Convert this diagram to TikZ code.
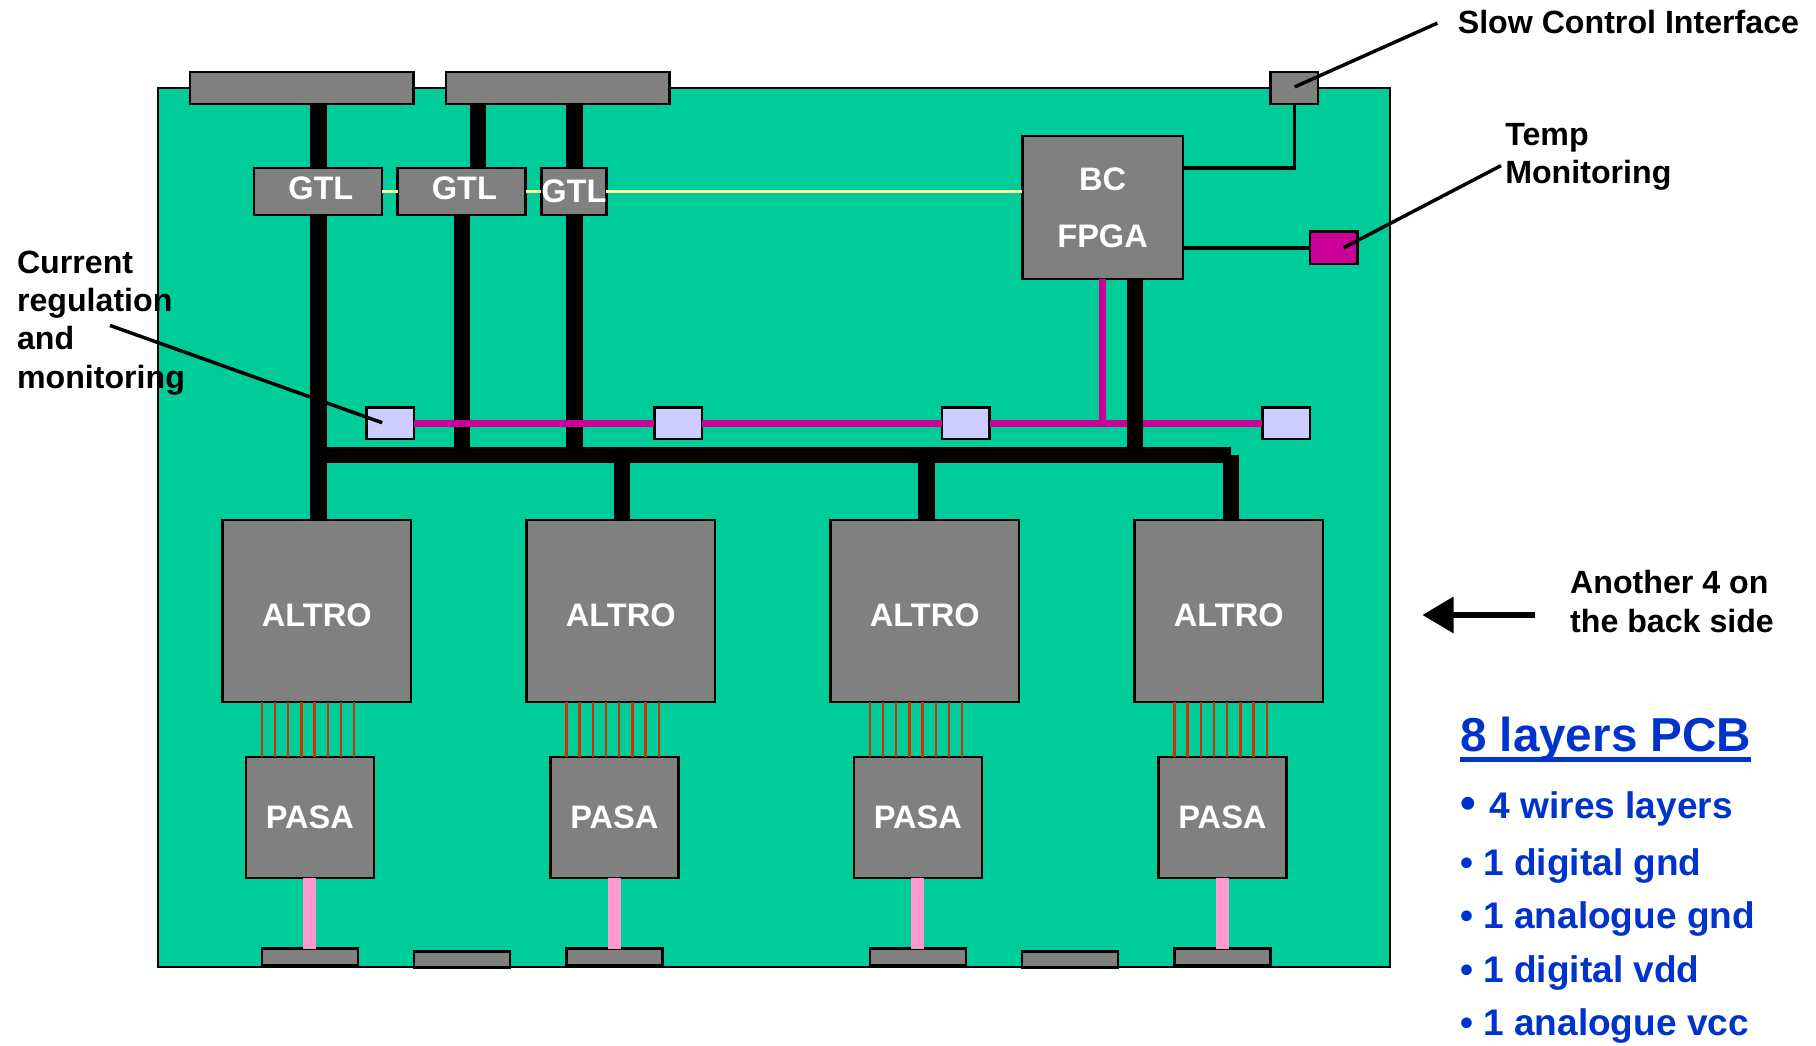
\documentclass[tikz,border=0pt]{standalone}
\usepackage{fontspec}
\setmainfont{Liberation Sans}[BoldFont={Liberation Sans Bold}]
\usetikzlibrary{arrows.meta}
\definecolor{boardgreen}{HTML}{00CC99}
\definecolor{chipgray}{HTML}{808080}
\definecolor{regblue}{HTML}{CCCCFF}
\definecolor{sensemagenta}{HTML}{CC0099}
\definecolor{wirered}{HTML}{CC3300}
\definecolor{analogpink}{HTML}{FF99CC}
\definecolor{clockyellow}{HTML}{FFFF99}
\definecolor{noteblue}{HTML}{0033CC}
\newcommand{\ruledtitle}[1]{\vtop{\hbox{\smash{#1}}\kern1.4pt\hrule height 1.05pt}}

\begin{document}
\begin{tikzpicture}[
    y=-1cm,
    >=Stealth,
    chip/.style={draw=black,fill=chipgray,line width=0.6pt,inner sep=0pt,outer sep=0pt,text=white,
        font=\fontsize{8}{14}\selectfont\bfseries,align=center},
    conn/.style={chip,minimum width=1.93cm,minimum height=0.28cm},
    foot/.style={chip,minimum width=0.83cm,minimum height=0.14cm},
    gtl/.style={chip,minimum width=1.105cm,minimum height=0.405cm},
    altro/.style={chip,minimum width=1.63cm,minimum height=1.575cm,text height=0.27cm,text depth=0pt},
    pasa/.style={chip,minimum width=1.105cm,minimum height=1.045cm},
    reg/.style={chip,fill=regblue,minimum width=0.41cm,minimum height=0.275cm},
    bus/.style={line width=0.14cm},
    sense/.style={sensemagenta,line width=0.06cm},
    wire/.style={wirered,line width=0.02cm},
    analog/.style={analogpink,line width=0.11cm},
    clockline/.style={clockyellow,line width=0.025cm},
    thinline/.style={line width=0.03cm},
    note/.style={inner sep=0pt,font=\fontsize{7.9}{9.4}\selectfont\bfseries,align=left},
    layer/.style={inner sep=0pt,anchor=base west,text=noteblue,font=\fontsize{9.1}{10}\selectfont\bfseries},
]
\useasboundingbox (0,0) rectangle (15.68,9.023);

% PCB outline
\node[draw=black,fill=boardgreen,line width=0.5pt,minimum width=10.635cm,minimum height=7.59cm,inner sep=0pt,outer sep=0pt] (board) at (6.685,4.555) {};

% Connectors on the edges
\node[conn] (con1) at (2.605,0.76) {};
\node[conn] (con2) at (4.815,0.76) {};
\node[chip,minimum width=0.41cm,minimum height=0.28cm] (sci) at (11.175,0.76) {};
\node[foot] (foot1) at (2.675,8.26) {};
\node[foot] (foot2) at (5.305,8.26) {};
\node[foot] (foot3) at (7.925,8.26) {};
\node[foot] (foot4) at (10.555,8.26) {};
\node[foot] (foot5) at (3.99,8.285) {};
\node[foot] (foot6) at (9.24,8.285) {};

% GTL and FPGA
\node[gtl,text depth=0.06cm] (gtl1) at (2.745,1.655) {\hspace*{0.05cm}GTL};
\node[gtl,text depth=0.06cm] (gtl2) at (3.985,1.655) {\hspace*{0.05cm}GTL};
\node[gtl,minimum width=0.55cm] (gtl3) at (4.955,1.655) {GTL};
\node[chip,minimum width=1.385cm,minimum height=1.235cm] (fpga) at (9.52,1.79) {BC\\FPGA};
\node[chip,fill=sensemagenta,minimum width=0.41cm,minimum height=0.28cm] (temp) at (11.515,2.14) {};

% Current regulators
\node[reg] (reg1) at (3.37,3.655) {};
\node[reg] (reg2) at (5.855,3.655) {};
\node[reg] (reg3) at (8.34,3.655) {};
\node[reg] (reg4) at (11.105,3.655) {};

% ALTRO and PASA
\node[altro] (alt1) at (2.735,5.275) {ALTRO};
\node[altro] (alt2) at (5.36,5.275) {ALTRO};
\node[altro] (alt3) at (7.985,5.275) {ALTRO};
\node[altro] (alt4) at (10.61,5.275) {ALTRO};
\node[pasa] (pasa1) at (2.675,7.06) {PASA};
\node[pasa] (pasa2) at (5.305,7.06) {PASA};
\node[pasa] (pasa3) at (7.925,7.06) {PASA};
\node[pasa] (pasa4) at (10.555,7.06) {PASA};

% Labels
\node[note,anchor=base west] (scilabel) at (12.58,0.29) {Slow Control Interface};
\node[note,anchor=north west] (templabel) at (12.99,1.06) {Temp\\Monitoring};
\node[note,anchor=north west] (reglabel) at (0.14,2.16) {Current\\regulation\\and\\monitoring};
\node[note,anchor=north west] (backlabel) at (13.55,4.92) {Another 4 on\\the back side};

% Leaders
\coordinate (scifoot) at (12.41,0.2);
\coordinate (scitip) at (11.18,0.75);
\coordinate (tempfoot) at (12.96,1.43);
\coordinate (temptip) at (11.6,2.14);
\coordinate (regfoot) at (0.95,2.81);
\coordinate (regtip) at (3.3,3.65);
\draw[thinline] (regfoot) -- (regtip);

% Data bus
\coordinate (bus1) at (2.75,3.93);
\coordinate (bus2) at (5.37,3.93);
\coordinate (bus3) at (8,3.93);
\coordinate (bus4) at (10.63,3.93);
\coordinate (bus5) at (9.8,3.93);
\draw[bus] (bus1) -- (bus4);
\draw[bus] (bus1 |- con1.south) -- (bus1 |- gtl1.north);
\draw[bus] (bus1 |- gtl1.south) -- (bus1 |- alt1.north);
\draw[bus] (4.13,0.9) -- (4.13,1.45);
\draw[bus] (3.99,1.86) -- (3.99,3.93);
\draw[bus] (4.96,0.9) -- (4.96,1.45);
\draw[bus] (4.96,1.86) -- (4.96,3.93);
\draw[bus] (bus2) -- (bus2 |- alt2.north);
\draw[bus] (bus3) -- (bus3 |- alt3.north);
\draw[bus] (bus4) -- (bus4 |- alt4.north);

% Monitoring line
\coordinate (sensetee) at (9.52,3.655);
\draw[sense] (reg1.east) -- (reg2.west);
\draw[sense] (reg2.east) -- (reg3.west);
\draw[sense] (reg3.east) -- (reg4.west);
\draw[sense] (sensetee |- fpga.south) -- (sensetee);
\draw[bus] (bus5 |- fpga.south) -- (bus5);

% Clock line
\draw[clockline] (gtl1.east) -- (gtl2.west);
\draw[clockline] (gtl2.east) -- (gtl3.west);
\draw[clockline] (gtl3.east) -- (gtl3.east -| fpga.west);

% Slow control and temperature
\coordinate (fpgaout) at (10.21,1.45);
\draw[thinline] (fpgaout) -| (sci.south);
\draw[thinline] (fpga.east |- temp.west) -- (temp.west);
\draw[thinline] (scifoot) -- (scitip);
\draw[thinline] (tempfoot) -- (temptip);

% Front-end links
\foreach \a/\p/\o in {alt1/pasa1/2.26,alt2/pasa2/4.89,alt3/pasa3/7.51,alt4/pasa4/10.14} {
    \foreach \i in {0,...,7} {
        \draw[wire] ({\o+\i*0.114},0 |- \a.south) -- ({\o+\i*0.114},0 |- \p.north);
    }
}
\draw[analog] (pasa1.south) -- (foot1.north);
\draw[analog] (pasa2.south) -- (foot2.north);
\draw[analog] (pasa3.south) -- (foot3.north);
\draw[analog] (pasa4.south) -- (foot4.north);

% Back side arrow
\coordinate (backfoot) at (13.25,5.31);
\coordinate (backtip) at (12.28,5.31);
\draw[-{Triangle[length=0.27cm,width=0.3cm]},line width=0.06cm] (backfoot) -- (backtip);

% Layer stack
\node[layer,font=\fontsize{11.7}{13}\selectfont\bfseries] (stack) at (12.6,6.49) {\ruledtitle{8 layers PCB}};
\node[layer] (layer1) at (12.6,7.07) {{\fontsize{11}{10}\selectfont •}\hspace{0.12cm}4 wires layers};
\node[layer] (layer2) at (12.6,7.56) {• 1 digital gnd};
\node[layer] (layer3) at (12.6,8.02) {• 1 analogue gnd};
\node[layer] (layer4) at (12.6,8.48) {• 1 digital vdd};
\node[layer] (layer5) at (12.6,8.94) {• 1 analogue vcc};
\end{tikzpicture}
\end{document}
